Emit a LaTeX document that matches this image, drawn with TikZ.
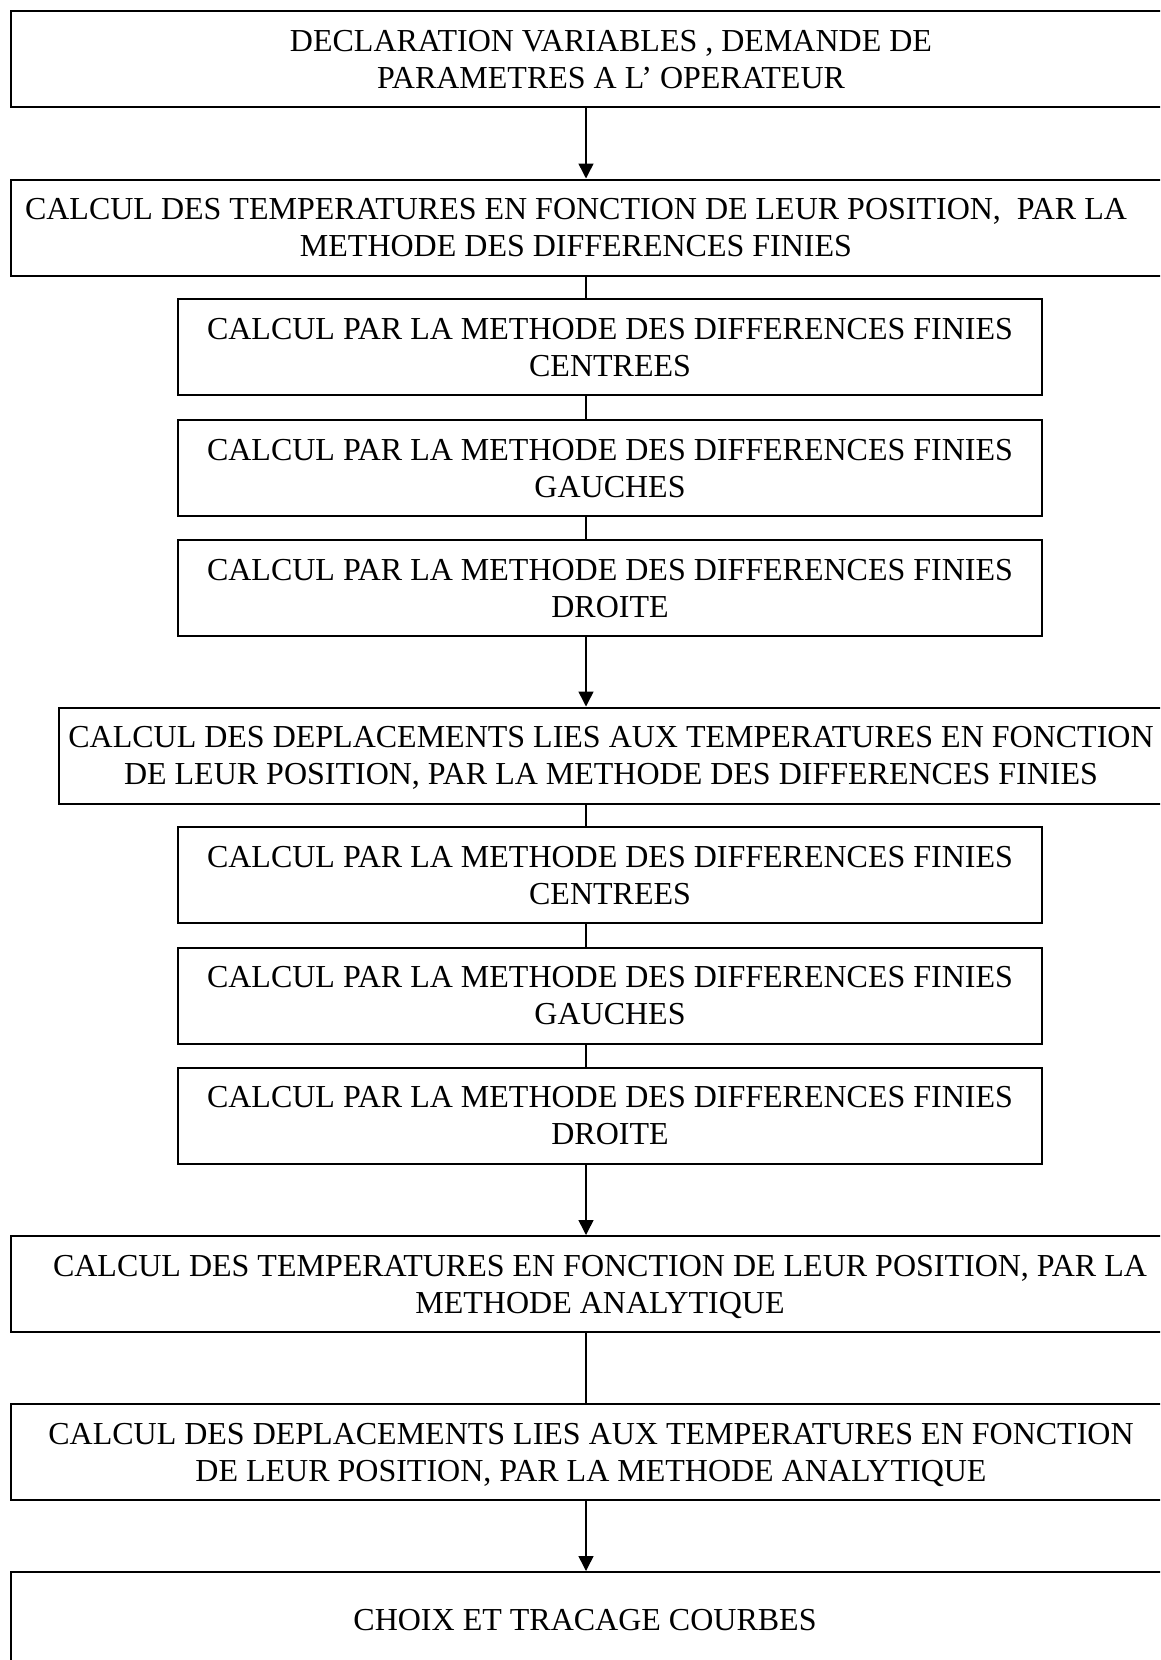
\documentclass[tikz,border=0pt]{standalone}
\usepackage{fontspec}
\setmainfont{Liberation Serif}
\usetikzlibrary{arrows.meta}

% lines of a box, shifted left by half of #1
\newcommand{\lignes}[2]{\raisebox{-3.5pt}[\height][\depth]{\begin{tabular}{@{}c@{}}#2\end{tabular}}\hspace*{#1pt}}

\begin{document}
\begin{tikzpicture}[x=1pt,y=-1pt]
  \tikzstyle{gbox} = [draw, line width=2pt, minimum width=1250pt, minimum height=96pt, inner sep=0pt, anchor=west, font=\fontsize{32}{37}\selectfont]
  \tikzstyle{pbox} = [draw, line width=2pt, minimum width=864pt, minimum height=96pt, inner sep=0pt, font=\fontsize{32}{37}\selectfont]
  \tikzstyle{fleche} = [line width=1.5pt, -{Triangle[length=15pt,width=15pt]}]
  \tikzstyle{trait} = [line width=1.5pt]

  \useasboundingbox (0,0) rectangle (1160,1660);
  \clip (0,0) rectangle (1160,1660);

  \coordinate (axe) at (586,0);

  \node[gbox] (decl) at (10,59) {\lignes{50}{DECLARATION VARIABLES , DEMANDE DE\\PARAMETRES A L' OPERATEUR}};
  \node[gbox] (tdf) at (10,227.5) {\lignes{120}{CALCUL DES TEMPERATURES EN FONCTION DE LEUR POSITION,~ PAR LA\\METHODE DES DIFFERENCES FINIES}};
  \node[pbox] (tc) at (610,347.3) {\lignes{0}{CALCUL PAR LA METHODE DES DIFFERENCES FINIES\\CENTREES}};
  \node[pbox] (tg) at (610,468) {\lignes{0}{CALCUL PAR LA METHODE DES DIFFERENCES FINIES\\GAUCHES}};
  \node[pbox] (td) at (610,588) {\lignes{0}{CALCUL PAR LA METHODE DES DIFFERENCES FINIES\\DROITE}};

  \node[gbox] (ddf) at (58,755.5) {\lignes{146}{CALCUL DES DEPLACEMENTS LIES AUX TEMPERATURES EN FONCTION\\DE LEUR POSITION, PAR LA METHODE DES DIFFERENCES FINIES}};
  \node[pbox] (dc) at (610,875) {\lignes{0}{CALCUL PAR LA METHODE DES DIFFERENCES FINIES\\CENTREES}};
  \node[pbox] (dg) at (610,995.5) {\lignes{0}{CALCUL PAR LA METHODE DES DIFFERENCES FINIES\\GAUCHES}};
  \node[pbox] (dd) at (610,1115.5) {\lignes{0}{CALCUL PAR LA METHODE DES DIFFERENCES FINIES\\DROITE}};

  \node[gbox] (tan) at (10,1284) {\lignes{72}{CALCUL DES TEMPERATURES EN FONCTION DE LEUR POSITION, PAR LA\\METHODE ANALYTIQUE}};
  \node[gbox] (dan) at (10,1452) {\lignes{90}{CALCUL DES DEPLACEMENTS LIES AUX TEMPERATURES EN FONCTION\\DE LEUR POSITION, PAR LA METHODE ANALYTIQUE}};
  \node[gbox] (choix) at (10,1620) {\lignes{102}{CHOIX ET TRACAGE COURBES}};

  \draw[fleche] (decl.south -| axe) -- (tdf.north -| axe);
  \draw[trait] (tdf.south -| axe) -- (tc.north -| axe);
  \draw[trait] (tc.south -| axe) -- (tg.north -| axe);
  \draw[trait] (tg.south -| axe) -- (td.north -| axe);
  \draw[fleche] (td.south -| axe) -- (ddf.north -| axe);
  \draw[trait] (ddf.south -| axe) -- (dc.north -| axe);
  \draw[trait] (dc.south -| axe) -- (dg.north -| axe);
  \draw[trait] (dg.south -| axe) -- (dd.north -| axe);
  \draw[fleche] (dd.south -| axe) -- (tan.north -| axe);
  \draw[trait] (tan.south -| axe) -- (dan.north -| axe);
  \draw[fleche] (dan.south -| axe) -- (choix.north -| axe);
\end{tikzpicture}
\end{document}
